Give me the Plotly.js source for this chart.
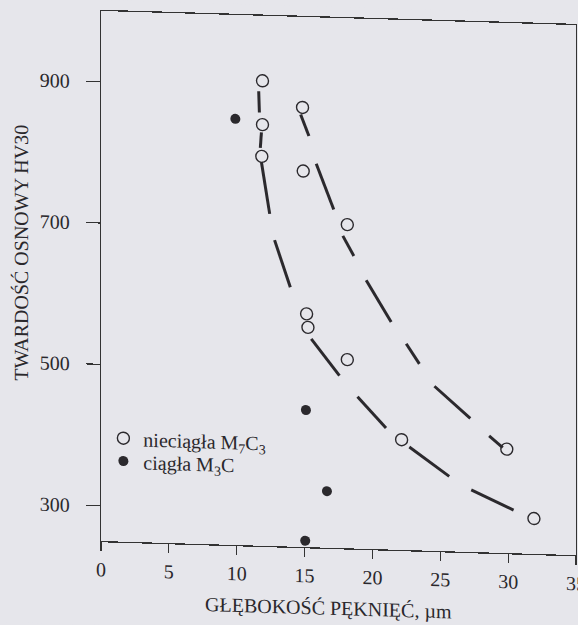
<!DOCTYPE html>
<html>
<head>
<meta charset="utf-8">
<script src="https://cdn.plot.ly/plotly-3.0.1.min.js"></script>
<style>
  html, body { margin: 0; padding: 0; background: #e6e6eb; overflow: hidden; }
  #plot { width: 578px; height: 625px; transform: skewY(1.7deg); transform-origin: 101px 0; }
</style>
</head>
<body>
<div id="plot"></div>
<script>
// Open circles: nieciągła M7C3
const openX = [11.9, 11.9, 11.85, 14.85, 14.9, 18.15, 15.15, 15.25, 18.15, 22.15, 29.9, 31.9];
const openY = [908, 846, 801, 872, 782, 708, 580, 561, 517, 406, 397, 300];
// Filled circles: ciągła M3C
const fillX = [9.9, 15.1, 16.65, 15.05];
const fillY = [853, 444, 330, 259];
// Hand-drawn dashed trend curves (dash segments separated by null)
const curve1X = [11.62, 11.67, null, 11.82, 11.74, null, 11.82, 12.43, null, 12.79, 13.95, null, 15.49, 17.57, null, 18.9, 21.0, null, 22.72, 25.66, null, 27.28, 30.4];
const curve1Y = [893, 863, null, 835, 813, null, 793, 720, null, 683, 617, null, 545, 494, null, 465, 422, null, 396, 356, null, 338, 311];
const curve2X = [14.71, 15.32, null, 15.86, 17.15, null, 17.82, 18.63, null, 19.54, 21.38, null, 22.49, 23.46, null, 24.57, 27.21, null, 28.6, 29.6];
const curve2Y = [862, 832, null, 793, 729, null, 692, 664, null, 630, 572, null, 542, 514, null, 483, 439, null, 415, 399];
// Axis ticks
const xTicks = [0, 5, 10, 15, 20, 25, 30, 35];
const yTicks = [300, 500, 700, 900];
const seriesNames = ['nieciągła M<sub>7</sub>C<sub>3</sub>', 'ciągła M<sub>3</sub>C'];
const xTitle = 'GŁĘBOKOŚĆ PĘKNIĘĆ, µm';
const yTitle = 'TWARDOŚĆ OSNOWY HV30';

const ink = '#2b292d';
const txt = '#2a282c';
const serif = 'Liberation Serif, Times New Roman, serif';

const traces = [
  { x: curve1X, y: curve1Y, mode: 'lines', line: { color: ink, width: 3 }, connectgaps: false, showlegend: false, hoverinfo: 'skip' },
  { x: curve2X, y: curve2Y, mode: 'lines', line: { color: ink, width: 3 }, connectgaps: false, showlegend: false, hoverinfo: 'skip' },
  { x: openX, y: openY, mode: 'markers', name: seriesNames[0], legend: 'legend',
    marker: { symbol: 'circle-open', size: 12, color: ink, line: { width: 1.4, color: ink } } },
  { x: fillX, y: fillY, mode: 'markers', name: seriesNames[1], legend: 'legend2',
    marker: { symbol: 'circle', size: 10, color: ink } }
];

const legendBase = { xanchor: 'left', yanchor: 'top', bgcolor: 'rgba(0,0,0,0)',
                     font: { family: serif, size: 20, color: txt }, itemclick: false };

const layout = {
  width: 578, height: 625,
  margin: { l: 101, r: 2, t: 11, b: 84 },
  paper_bgcolor: '#e6e6eb', plot_bgcolor: '#e6e6eb',
  font: { family: serif, color: txt, size: 20 },
  showlegend: true,
  legend: Object.assign({ x: 0.005, y: 0.232 }, legendBase),
  legend2: Object.assign({ x: 0.005, y: 0.189 }, legendBase),
  xaxis: {
    range: [0, 35], tickvals: xTicks, ticktext: xTicks.map(String),
    ticks: 'outside', ticklen: 9, tickwidth: 1.2, tickcolor: '#333',
    showline: true, mirror: true, linecolor: '#333', linewidth: 1.3,
    showgrid: false, zeroline: false, ticklabelstandoff: 1, ticklabeloverflow: 'allow',
    tickfont: { family: serif, size: 20, color: txt }
  },
  yaxis: {
    range: [250, 1000], tickvals: yTicks, ticktext: yTicks.map(String),
    ticks: 'outside', ticklen: 14, tickwidth: 1.2, tickcolor: '#333',
    showline: true, mirror: true, linecolor: '#333', linewidth: 1.3,
    showgrid: false, zeroline: false, ticklabelstandoff: 12, ticklabeloverflow: 'allow',
    tickfont: { family: serif, size: 20, color: txt }
  },
  annotations: [
    { text: yTitle, xref: 'paper', yref: 'paper', x: -0.169, y: 0.539,
      xanchor: 'center', yanchor: 'middle', textangle: -90, showarrow: false,
      font: { family: serif, size: 20, color: txt } },
    { text: xTitle, xref: 'paper', yref: 'paper', x: 0.479, y: -0.113,
      xanchor: 'center', yanchor: 'middle', showarrow: false,
      font: { family: serif, size: 20, color: txt } }
  ]
};

Plotly.newPlot('plot', traces, layout, { displayModeBar: false, staticPlot: true });
</script>
</body>
</html>
